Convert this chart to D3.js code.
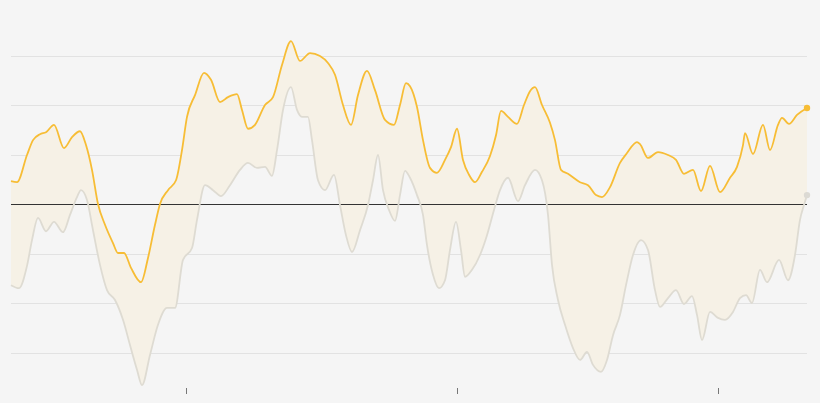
<!DOCTYPE html>
<html>
<head>
<meta charset="utf-8">
<script src="https://cdn.jsdelivr.net/npm/d3@7"></script>
<style>
  html, body { margin: 0; padding: 0; background: #f5f5f5; }
  svg { display: block; }
</style>
</head>
<body>
<div id="chart"></div>
<script>
// --- Data (t = position along the series, value = index points) ---
const yellowT = [0, 6, 16, 22, 29, 35, 43, 53, 61, 69, 75, 81, 87, 94, 102, 107, 113, 120, 130, 137,
  144, 149, 157, 165, 171, 176, 184, 193, 200, 209, 217, 226, 231, 237, 244, 254, 262, 271, 280, 289,
  299, 309, 317, 324, 332, 340, 347, 356, 364, 374, 383, 389, 395, 399, 406, 412, 419, 426, 434, 440,
  446, 452, 458, 464, 471, 479, 485, 490, 497, 506, 513, 519, 524, 531, 539, 544, 550, 557, 569, 577,
  585, 591, 599, 609, 616, 626, 629, 637, 647, 657, 665, 673, 682, 690, 699, 709, 719, 726, 732, 734,
  742, 752, 759, 767, 771, 778, 786, 796];
const yellowV = [4.6, 4.4, 9.9, 12.9, 14.1, 14.5, 16.0, 11.3, 13.5, 14.7, 11.9, 6.9, 0, -4.2, -7.9, -9.9, -9.9, -12.9, -15.8, -10.9,
  -4.2, 0, 2.8, 4.8, 10.9, 17.6, 22.0, 26.5, 25.1, 20.6, 21.6, 22.2, 19.0, 15.2, 16.0, 20.0, 21.6, 28.1, 32.9, 28.9,
  30.5, 29.9, 28.5, 26.1, 20.0, 16.0, 22.0, 26.9, 23.0, 17.0, 16.0, 20.0, 24.4, 23.8, 19.6, 12.9, 7.3, 6.3, 8.9, 11.5,
  15.2, 8.9, 5.9, 4.4, 6.5, 9.7, 13.9, 18.8, 17.6, 16.2, 20.0, 22.8, 23.6, 20.0, 16.4, 12.9, 6.9, 6.1, 4.4, 3.8,
  1.8, 1.4, 3.4, 8.3, 10.3, 12.5, 12.1, 9.3, 10.5, 9.9, 8.9, 6.1, 6.9, 2.6, 7.7, 2.4, 5.3, 7.5, 11.9, 14.3,
  10.1, 16.0, 10.9, 16.0, 17.4, 16.2, 18.0, 19.4];

const grayT = [0, 8, 16, 21, 27, 35, 43, 52, 59, 66, 70, 76, 82, 89, 96, 104, 112, 119, 126, 131,
  139, 147, 156, 164, 172, 181, 186, 194, 202, 210, 219, 229, 237, 246, 254, 261, 266, 272, 280, 286,
  291, 297, 301, 307, 314, 323, 329, 335, 341, 349, 357, 362, 367, 372, 378, 384, 389, 394, 399, 406,
  412, 416, 422, 428, 434, 439, 445, 450, 454, 461, 469, 476, 483, 489, 497, 507, 514, 524, 531, 537,
  541, 547, 554, 562, 569, 576, 582, 590, 596, 602, 609, 615, 622, 630, 637, 644, 649, 657, 665, 673,
  681, 686, 691, 699, 707, 714, 722, 729, 735, 741, 749, 756, 768, 777, 784, 789, 793, 796];
const grayV = [-16.4, -17.0, -12.5, -7.3, -2.8, -5.5, -3.6, -5.7, -2.2, 1.4, 2.8, 0.8, -5.3, -12.3, -17.4, -19.4, -23.4, -28.5, -33.5, -36.6,
  -30.5, -24.4, -21.0, -21.0, -11.3, -8.9, -3.2, 3.8, 2.8, 1.6, 3.8, 6.9, 8.3, 7.3, 7.5, 5.7, 10.9, 19.0, 23.6, 19.0,
  17.6, 17.6, 12.9, 4.8, 2.8, 5.9, -0.2, -6.3, -9.7, -5.3, -0.2, 4.8, 9.9, 2.8, -1.2, -3.4, 1.8, 6.7, 5.3, 1.8,
  -2.2, -8.3, -14.3, -17.0, -15.4, -9.3, -3.6, -9.3, -14.7, -13.3, -10.3, -6.3, -1.2, 2.8, 5.3, 0.6, 3.8, 6.9, 4.8, -2.2,
  -12.3, -19.4, -24.4, -29.1, -31.5, -29.9, -32.5, -33.9, -31.5, -26.5, -22.4, -16.4, -10.3, -7.3, -9.3, -17.4, -20.8, -19.0, -17.4, -20.2,
  -18.6, -22.4, -27.5, -21.8, -23.0, -23.4, -21.8, -19.0, -18.4, -20.0, -13.3, -15.8, -11.3, -15.4, -10.3, -3.2, -0.2, 1.8];

const gridValues = [-30, -20, -10, 10, 20, 30];
const tickPositions = [175, 446, 707];

// --- Layout ---
const width = 820;
const height = 403;

const yellow = yellowT.map((t, i) => ({ t, v: yellowV[i] }));
const gray = grayT.map((t, i) => ({ t, v: grayV[i] }));

const x = d3.scaleLinear().domain([0, 796]).range([11, 807]);
const y = d3.scaleLinear().domain([-40, 40]).range([402, 6]);
const crisp = v => Math.round(v) + 0.5; // pixel-aligned 1px lines

const svg = d3.select("#chart").append("svg")
  .attr("width", width)
  .attr("height", height);

svg.append("rect")
  .attr("width", width)
  .attr("height", height)
  .attr("fill", "#f5f5f5");

// --- Grid lines ---
svg.append("g").selectAll("line")
  .data(gridValues)
  .enter()
  .append("line")
  .attr("x1", x(0))
  .attr("x2", x(796))
  .attr("y1", d => crisp(y(d)))
  .attr("y2", d => crisp(y(d)))
  .attr("stroke", "#e2e2e2")
  .attr("stroke-width", 1);

// --- Fill between the two series (evenodd of two areas) ---
const areaY = d3.area().x(d => x(d.t)).y0(height).y1(d => y(d.v)).curve(d3.curveMonotoneX);
svg.append("path")
  .attr("d", areaY(yellow) + areaY(gray))
  .attr("fill", "#f6f1e6")
  .attr("fill-rule", "evenodd");

// --- Zero line ---
svg.append("line")
  .attr("x1", x(0))
  .attr("x2", x(796))
  .attr("y1", crisp(y(0)))
  .attr("y2", crisp(y(0)))
  .attr("stroke", "#333")
  .attr("stroke-width", 1);

// --- Lines ---
const line = d3.line().x(d => x(d.t)).y(d => y(d.v)).curve(d3.curveMonotoneX);

svg.append("path")
  .attr("d", line(gray))
  .attr("fill", "none")
  .attr("stroke", "#dedbd2")
  .attr("stroke-width", 1.8);

svg.append("path")
  .attr("d", line(yellow))
  .attr("fill", "none")
  .attr("stroke", "#f7bd35")
  .attr("stroke-width", 1.8);

// --- End dots ---
const lastG = gray[gray.length - 1];
const lastY = yellow[yellow.length - 1];
svg.append("circle")
  .attr("cx", x(lastG.t)).attr("cy", y(lastG.v)).attr("r", 3.2)
  .attr("fill", "#dcdad4");
svg.append("circle")
  .attr("cx", x(lastY.t)).attr("cy", y(lastY.v)).attr("r", 3.2)
  .attr("fill", "#f7bd35");

// --- Bottom ticks ---
svg.append("g").selectAll("line")
  .data(tickPositions)
  .enter()
  .append("line")
  .attr("x1", d => crisp(x(d)))
  .attr("x2", d => crisp(x(d)))
  .attr("y1", 388)
  .attr("y2", 394)
  .attr("stroke", "#777")
  .attr("stroke-width", 1);
</script>
</body>
</html>
